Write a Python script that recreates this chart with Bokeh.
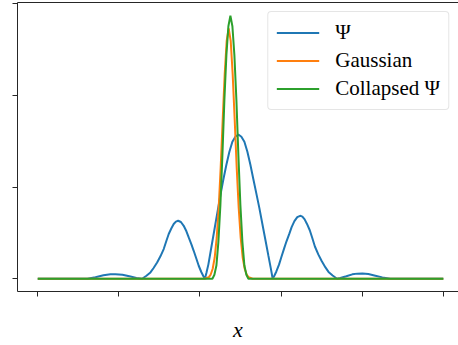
from bokeh.plotting import figure
from bokeh.models import Legend, LegendItem, FixedTicker, LinearAxis, Range1d
from bokeh.embed import file_html
from bokeh.resources import INLINE

# ---- data ----
psi_x = [-10.0, -7.895, -7.550, -7.156, -6.761, -6.416, -6.170, -5.824, -5.430, -5.134,
         -4.853, -4.641, -4.444, -4.296, -4.114, -3.951, -3.789, -3.655, -3.542, -3.409,
         -3.296, -3.187, -3.079, -2.941, -2.803, -2.669, -2.556, -2.423, -2.310, -2.177,
         -2.063, -1.930, -1.831, -1.757, -1.684, -1.585, -1.437, -1.289, -1.141, -0.993,
         -0.845, -0.698, -0.550, -0.402, -0.254, -0.106, 0.042, 0.190, 0.338, 0.486,
         0.633, 0.781, 0.929, 1.077, 1.225, 1.373, 1.496, 1.585, 1.661, 1.762,
         1.898, 2.015, 2.151, 2.267, 2.404, 2.520, 2.657, 2.798, 2.940, 3.051,
         3.162, 3.278, 3.415, 3.531, 3.668, 3.835, 4.002, 4.188, 4.340, 4.542,
         4.760, 4.922, 5.218, 5.514, 5.760, 6.007, 6.303, 6.648, 6.993, 7.387, 10.0]
psi_y = [0.0, 0.0, 0.0, 0.016, 0.038, 0.048, 0.050, 0.044, 0.025, 0.009,
         0.0, 0.033, 0.069, 0.115, 0.178, 0.245, 0.324, 0.415, 0.488, 0.551,
         0.597, 0.624, 0.633, 0.619, 0.578, 0.518, 0.451, 0.376, 0.305, 0.218,
         0.142, 0.071, 0.027, 0.0, 0.063, 0.157, 0.346, 0.535, 0.724, 0.913,
         1.086, 1.243, 1.385, 1.495, 1.550, 1.574, 1.550, 1.495, 1.385, 1.243,
         1.086, 0.929, 0.771, 0.598, 0.425, 0.252, 0.110, 0.0, 0.030, 0.077,
         0.154, 0.237, 0.332, 0.409, 0.489, 0.563, 0.628, 0.672, 0.687, 0.678,
         0.648, 0.598, 0.529, 0.450, 0.352, 0.266, 0.193, 0.124, 0.075, 0.036,
         0.0, 0.009, 0.028, 0.048, 0.056, 0.058, 0.051, 0.033, 0.015, 0.0, 0.0]

gauss_x = [-10.0, -1.767, -1.570, -1.471, -1.373, -1.274, -1.176, -1.077, -0.978, -0.880,
           -0.781, -0.683, -0.584, -0.485, -0.387, -0.288, -0.190, -0.091, 0.008, 0.106,
           0.205, 0.303, 0.402, 0.599, 10.0]
gauss_y = [0.0, 0.0, 0.016, 0.046, 0.109, 0.232, 0.445, 0.775, 1.218, 1.734,
           2.230, 2.596, 2.730, 2.596, 2.230, 1.734, 1.218, 0.775, 0.445, 0.232,
           0.109, 0.046, 0.016, 0.0, 0.0]

coll_x = [-10.0, -1.387, -1.289, -1.190, -1.092, -0.993, -0.894, -0.796, -0.697, -0.599,
          -0.500, -0.401, -0.303, -0.204, -0.106, -0.007, 0.092, 0.190, 0.289, 0.387, 10.0]
coll_y = [0.0, 0.0, 0.043, 0.144, 0.402, 0.804, 1.349, 1.952, 2.440, 2.755,
          2.870, 2.755, 2.440, 1.952, 1.349, 0.804, 0.402, 0.144, 0.043, 0.0, 0.0]

x_ticks = [-10, -6, -2, 2, 6, 10]
y_ticks = [0, 1, 2, 3]
labels = ["Ψ", "Gaussian", "Collapsed Ψ"]
colors = ["#1f77b4", "#ff7f0e", "#2ca02c"]

SPINE = "#262626"

p = figure(width=458, height=345, output_backend="svg", toolbar_location=None,
           x_range=Range1d(-11.0, 10.75), y_range=Range1d(-0.139, 3.014),
           min_border_left=17, min_border_right=0, min_border_top=2, min_border_bottom=54)
p.grid.visible = False
p.outline_line_color = None
p.background_fill_color = "white"
p.border_fill_color = "white"

for ax, ticks in ((p.xaxis[0], x_ticks), (p.yaxis[0], y_ticks)):
    ax.ticker = FixedTicker(ticks=ticks)
    ax.major_label_overrides = {t: "" for t in ticks}
    ax.major_label_text_font_size = "1px"
    ax.major_label_standoff = 0
    ax.minor_tick_line_color = None
    ax.major_tick_out = 5
    ax.major_tick_in = 0
    ax.major_tick_line_color = SPINE
    ax.major_tick_line_width = 1
    ax.axis_line_color = SPINE
    ax.axis_line_width = 1

xa = p.xaxis[0]
xa.axis_label = "x"
xa.axis_label_text_font = "Liberation Serif"
xa.axis_label_text_font_style = "italic"
xa.axis_label_text_font_size = "22px"
xa.axis_label_text_color = "black"
xa.axis_label_standoff = 20

top = LinearAxis(ticker=FixedTicker(ticks=[]), major_tick_out=0, major_tick_in=0,
                 minor_tick_line_color=None, major_label_standoff=0,
                 axis_line_color=SPINE, axis_line_width=1)
p.add_layout(top, "above")

r1 = p.line(psi_x, psi_y, line_color=colors[0], line_width=2)
r2 = p.line(gauss_x, gauss_y, line_color=colors[1], line_width=2)
r3 = p.line(coll_x, coll_y, line_color=colors[2], line_width=2)

legend = Legend(items=[LegendItem(label=labels[0], renderers=[r1]),
                       LegendItem(label=labels[1], renderers=[r2]),
                       LegendItem(label=labels[2], renderers=[r3])],
                location="top_right", margin=9, padding=8, spacing=3,
                glyph_width=43, glyph_height=21, label_height=21, label_standoff=16,
                label_text_font="Liberation Serif", label_text_font_size="21px",
                label_text_color="black", border_line_color="#cccccc",
                border_line_width=1, background_fill_alpha=0.8)
if "border_radius" in Legend.properties():
    legend.border_radius = 4
p.add_layout(legend)

open("out.html", "w").write(file_html(p, INLINE))
